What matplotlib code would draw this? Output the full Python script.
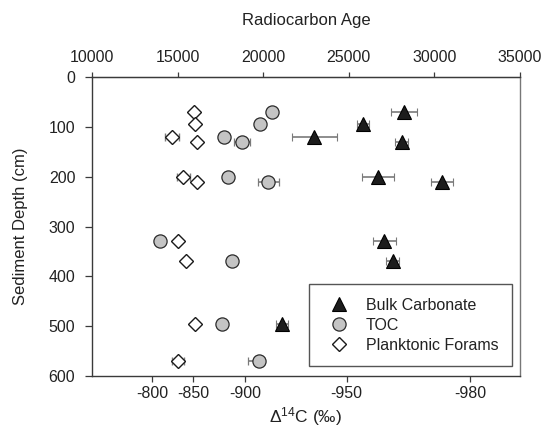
import matplotlib
matplotlib.use("Agg")
import matplotlib.pyplot as plt
from matplotlib.lines import Line2D

plt.rcParams['font.family'] = ['Liberation Sans', 'DejaVu Sans']
plt.rcParams['mathtext.fontset'] = 'custom'
plt.rcParams['mathtext.rm'] = 'Liberation Sans'
plt.rcParams['mathtext.it'] = 'Liberation Sans:italic'

# ---- data (radiocarbon age, depth in cm) ----
depth_bulk = [70, 95, 120, 130, 200, 210, 330, 370, 495]
age_bulk = [28220, 25830, 22990, 28090, 26710, 30460, 27070, 27560, 21080]
err_bulk = [780, 350, 1310, 380, 920, 630, 680, 380, 350]

depth_toc = [70, 95, 120, 130, 200, 210, 330, 370, 495, 570]
age_toc = [20530, 19830, 17730, 18760, 17940, 20300, 13950, 18180, 17590, 19760]
err_toc_lo = [0, 0, 0, 470, 0, 600, 0, 0, 0, 620]
err_toc_hi = [0, 0, 0, 470, 0, 600, 0, 0, 0, 300]

depth_pf = [70, 95, 121, 130, 200, 210, 330, 370, 495, 570]
age_pf = [15980, 16020, 14660, 16120, 15330, 16120, 15040, 15490, 16000, 15010]
err_pf = [0, 0, 410, 0, 390, 0, 0, 0, 0, 350]

age_ticks = [10000, 15000, 20000, 25000, 30000, 35000]
delta_labels = ['-800', '-850', '-900', '-950', '-980']
delta_tick_ages = [13520, 15920, 18940, 24880, 32090]
depth_ticks = [0, 100, 200, 300, 400, 500, 600]

series_names = ['Bulk Carbonate', 'TOC', 'Planktonic Forams']

# ---- figure ----
fig = plt.figure(figsize=(5.42, 4.30), dpi=100)
ax = fig.add_axes([92/542, 1-376/430, 428/542, 299/430])

spine_c = '#3a3a3a'
text_c = '#222222'
ecol = '#7a7a7a'

ax.errorbar(age_bulk, depth_bulk, xerr=err_bulk, fmt='^', ms=10,
            mfc='#1c1c1c', mec='#000000', mew=0.8, ecolor=ecol,
            elinewidth=1.2, capsize=3.2, capthick=1.2, zorder=3)
ax.errorbar(age_toc, depth_toc, xerr=[err_toc_lo, err_toc_hi], fmt='o', ms=9.5,
            mfc='#c4c4c4', mec='#2a2a2a', mew=0.9, ecolor=ecol,
            elinewidth=1.2, capsize=3.2, capthick=1.2, zorder=3)
ax.errorbar(age_pf, depth_pf, xerr=err_pf, fmt='D', ms=7.4,
            mfc='white', mec='#1a1a1a', mew=1.0, ecolor=ecol,
            elinewidth=1.2, capsize=3.2, capthick=1.2, zorder=3)

ax.set_xlim(age_ticks[0], age_ticks[-1])
ax.set_ylim(600, 0)

ax.set_xticks(delta_tick_ages)
ax.set_xticklabels(delta_labels)
ax.set_yticks(depth_ticks)
ax.tick_params(axis='x', direction='out', length=4, width=0.9, color=spine_c,
               labelsize=11.5, labelcolor=text_c, pad=3, top=False)
ax.tick_params(axis='y', direction='out', length=5, width=0.9, color=spine_c,
               labelsize=11.5, labelcolor=text_c, pad=7, right=False)
for s in ax.spines.values():
    s.set_color(spine_c)
    s.set_linewidth(1.0)
ax.spines['right'].set_color('#777777')

ax.set_xlabel('Δ$^{\\mathregular{14}}$C (‰)', fontsize=12.5, color=text_c, labelpad=3)
ax.set_ylabel('Sediment Depth (cm)', fontsize=12, color=text_c, labelpad=15)

sec = ax.secondary_xaxis('top')
sec.set_xticks(age_ticks)
sec.tick_params(direction='out', length=3.5, width=0.9, color=spine_c,
                labelsize=11.5, labelcolor=text_c, pad=5)
sec.spines['top'].set_color(spine_c)
sec.set_xlabel('Radiocarbon Age', fontsize=12, color=text_c, labelpad=18)

handles = [
    Line2D([], [], ls='none', marker='^', ms=10, mfc='#1c1c1c', mec='#000000', mew=0.8),
    Line2D([], [], ls='none', marker='o', ms=9.5, mfc='#c4c4c4', mec='#2a2a2a', mew=0.9),
    Line2D([], [], ls='none', marker='D', ms=7.4, mfc='white', mec='#1a1a1a', mew=1.0),
]
leg = ax.legend(handles, series_names, loc='lower right',
                bbox_to_anchor=(0.981, 0.033), fontsize=11.5, frameon=True,
                fancybox=False, borderpad=0.85, handlelength=2.0,
                handletextpad=0.7, labelspacing=0.3, borderaxespad=0)
leg.get_frame().set_edgecolor('#2a2a2a')
leg.get_frame().set_linewidth(1.0)
for t in leg.get_texts():
    t.set_color(text_c)

fig.savefig('out.png', dpi=100)
